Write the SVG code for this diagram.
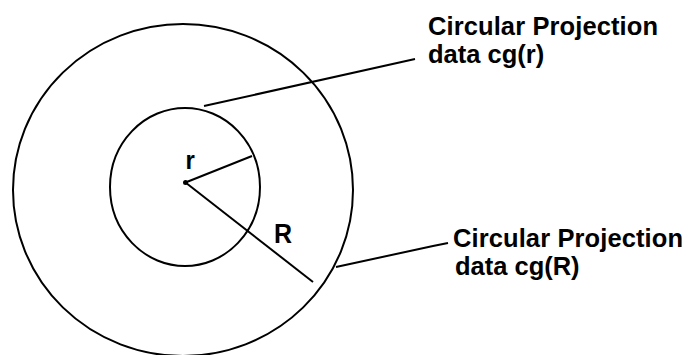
<svg xmlns="http://www.w3.org/2000/svg" width="689" height="355" viewBox="0 0 689 355">
<style>
.s{fill:none;stroke:#000;stroke-width:2}
.lbl{font-family:"Liberation Sans",Arial,sans-serif;font-weight:bold;font-size:25.5px;fill:#000}
.sym{font-family:"Liberation Sans",Arial,sans-serif;font-weight:bold;fill:#000}
</style>
<rect width="689" height="355" fill="#fff"/>
<g id="outer-circle"><ellipse class="s" cx="183" cy="190" rx="170" ry="166"/></g>
<g id="inner-circle"><ellipse class="s" cx="185" cy="187" rx="75" ry="79"/></g>
<g id="center"><circle cx="185.5" cy="182.5" r="2.5" fill="#000"/></g>
<g id="connectors">
<line class="s" x1="185.5" y1="182.5" x2="252" y2="156"/>
<line class="s" x1="185.5" y1="182.5" x2="313" y2="282"/>
<line class="s" x1="204" y1="106" x2="415" y2="59"/>
<polyline class="s" points="336,267 433,246 448,243"/>
</g>
<g id="label-r"><text class="sym" font-size="24" transform="translate(185.5,169) scale(1,1.1)">r</text></g>
<g id="label-R"><text class="sym" font-size="25" transform="translate(274,243) scale(1,1.07)">R</text></g>
<g id="label-inner">
<text class="lbl" transform="translate(428,35) scale(1,1.04)" textLength="230">Circular Projection</text>
<text class="lbl" transform="translate(428,63) scale(1,1.04)">data cg(r)</text>
</g>
<g id="label-outer">
<text class="lbl" transform="translate(453,247) scale(1,1.04)" textLength="230">Circular Projection</text>
<text class="lbl" transform="translate(455,275) scale(1,1.04)">data cg(R)</text>
</g>
</svg>
